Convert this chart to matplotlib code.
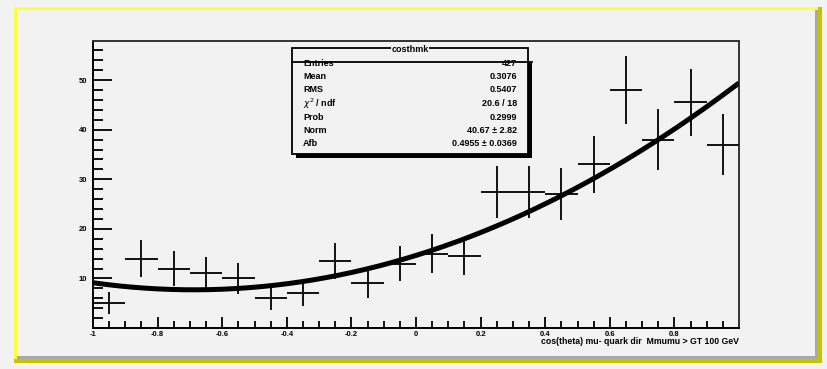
import numpy as np
import matplotlib
matplotlib.use("Agg")
import matplotlib.pyplot as plt
from matplotlib.patches import Rectangle
from matplotlib.lines import Line2D
from matplotlib.ticker import MultipleLocator

# cos(theta) histogram, 20 bins on [-1, 1]
bin_edges = np.linspace(-1.0, 1.0, 21)
counts = [5, 14, 12, 11, 10, 6, 7, 13.5, 9, 13, 15, 14.5,
          27.5, 27.5, 27, 33, 48, 38, 45.5, 37]

# fit results shown in the stats box
norm, norm_err = 40.67, 2.82
afb, afb_err = 0.4955, 0.0369
stat_names = ["Entries", "Mean", "RMS", r"$\chi^2$ / ndf", "Prob", "Norm", "Afb"]
stat_values = ["427", "0.3076", "0.5407", "20.6 / 18", "0.2999",
               "%.2f \u00b1 %.2f" % (norm, norm_err),
               "%.4f \u00b1 %.4f" % (afb, afb_err)]

W, H = 827, 369
bg = "#f2f2f2"
fig = plt.figure(figsize=(W / 100, H / 100), dpi=100, facecolor=bg)
plt.rcParams["font.family"] = ["Liberation Sans", "DejaVu Sans"]


def fx(x):
    return x / W


def fy(y):
    return 1 - y / H


def frect(x0, y0, x1, y1, color, z=0):
    fig.add_artist(Rectangle((fx(x0), fy(y1)), fx(x1) - fx(x0), fy(y0) - fy(y1),
                             transform=fig.transFigure, facecolor=color,
                             edgecolor="none", zorder=z))


# canvas bevel border
frect(14, 7, 822, 363, "#c4c400")
frect(14, 7, 818, 359, "#ffff3a")
frect(17, 10, 818, 359, "#a8a8a8")
frect(17, 10, 815, 356, bg)

ax = fig.add_axes([fx(93), fy(328), fx(739) - fx(93), fy(41) - fy(328)])
ax.set_facecolor(bg)
ax.set_xlim(-1, 1)
ax.set_ylim(0, 57.9)

centers = 0.5 * (bin_edges[:-1] + bin_edges[1:])
vals = np.array(counts, dtype=float)
ax.errorbar(centers, vals, xerr=0.05, yerr=np.sqrt(vals), fmt="none",
            ecolor="black", elinewidth=1.3, capsize=0, zorder=3)

xs = np.linspace(-1, 1, 200)
fit = norm * (0.36 * (1 + xs ** 2) + afb * xs)
ax.plot(xs, fit, color="black", lw=3.6, solid_capstyle="butt", zorder=4)

for s in ax.spines.values():
    s.set_linewidth(1.4)
ax.spines["top"].set_color("#333333")
ax.spines["right"].set_color("#333333")

ax.xaxis.set_major_locator(MultipleLocator(0.2))
ax.xaxis.set_minor_locator(MultipleLocator(0.05))
ax.yaxis.set_major_locator(MultipleLocator(10))
ax.yaxis.set_minor_locator(MultipleLocator(2))
ax.tick_params(which="both", direction="in", top=False, right=False,
               width=1.3, labelsize=5.5, pad=2)
ax.tick_params(axis="y", which="major", length=14, pad=4)
ax.tick_params(axis="y", which="minor", length=7)
ax.tick_params(axis="x", which="major", length=8)
ax.tick_params(axis="x", which="minor", length=5)
ax.set_xticks(np.arange(-1, 0.81, 0.2))
ax.set_xticklabels(["-1", "-0.8", "-0.6", "-0.4", "-0.2", "0",
                    "0.2", "0.4", "0.6", "0.8"])
ax.set_yticks([10, 20, 30, 40, 50])
for lbl in ax.get_xticklabels() + ax.get_yticklabels():
    lbl.set_fontweight("bold")

fig.text(fx(739), fy(342), "cos(theta) mu- quark dir  Mmumu > GT 100 GeV",
         ha="right", va="center", fontsize=6.3, fontweight="bold")

# stats box with drop shadow
bx0, by0, bx1, by1 = 292, 48, 528, 154
frect(bx0 + 4, by0 + 14, bx1 + 4, by1 + 4, "black", z=5)
fig.add_artist(Rectangle((fx(bx0), fy(by1)), fx(bx1) - fx(bx0), fy(by0) - fy(by1),
                         transform=fig.transFigure, facecolor=bg,
                         edgecolor="black", lw=1.3, zorder=6))
fig.add_artist(Line2D([fx(bx0), fx(bx1 + 4)], [fy(62), fy(62)],
                      transform=fig.transFigure, color="black", lw=1.3, zorder=7))
fig.text(fx(410), fy(49), "costhmk", ha="center", va="center", fontsize=6.5,
         fontweight="bold", zorder=8,
         bbox=dict(facecolor=bg, edgecolor="none", pad=0.5))
for i, (name, val) in enumerate(zip(stat_names, stat_values)):
    y = 63 + 13.5 * i
    fig.text(fx(303), fy(y), name, ha="left", va="center", fontsize=6.5,
             fontweight="bold", zorder=8)
    fig.text(fx(517), fy(y), val, ha="right", va="center", fontsize=6.5,
             fontweight="bold", zorder=8)

fig.savefig("out.png", dpi=100, facecolor=bg)
